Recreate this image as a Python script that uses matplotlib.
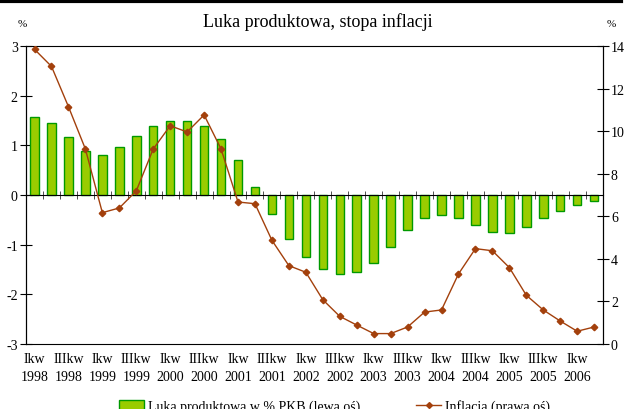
import matplotlib
matplotlib.use("Agg")
import matplotlib.pyplot as plt
from matplotlib.lines import Line2D
from matplotlib.patches import Patch
import numpy as np

plt.rcParams['font.family'] = ['Liberation Serif', 'DejaVu Serif']
plt.rcParams['axes.unicode_minus'] = False

# output gap, % of GDP (left axis), 1998Q1 .. 2006Q2
gap = [1.56, 1.45, 1.17, 0.89, 0.81, 0.97, 1.18, 1.39, 1.49, 1.49, 1.39, 1.13,
       0.71, 0.17, -0.39, -0.88, -1.25, -1.50, -1.59, -1.55, -1.36, -1.04,
       -0.70, -0.47, -0.40, -0.47, -0.61, -0.75, -0.77, -0.64, -0.47, -0.33,
       -0.20, -0.13]
# inflation (right axis)
infl = [13.84, 13.04, 11.15, 9.16, 6.17, 6.39, 7.19, 9.16, 10.25, 9.96, 10.76,
        9.16, 6.67, 6.59, 4.87, 3.68, 3.37, 2.08, 1.30, 0.89, 0.49, 0.49,
        0.80, 1.50, 1.60, 3.29, 4.48, 4.38, 3.59, 2.29, 1.60, 1.08, 0.60, 0.80]
years = list(range(1998, 2007))
tick_labels = []
for y in years:
    tick_labels.append(f"Ikw\n{y}")
    if y < 2006:
        tick_labels.append(f"IIIkw\n{y}")

bar_fill = '#99CC00'
bar_edge = '#009900'
line_col = '#A3400C'

fig = plt.figure(figsize=(6.35, 4.10), dpi=100)
ax = fig.add_axes([0.041, 0.1585, 0.908, 0.727])
x = np.arange(len(gap))

ax.bar(x, gap, width=0.5, color=bar_fill, edgecolor=bar_edge, linewidth=1, zorder=2)
ax.set_xlim(-0.5, len(gap) - 0.5)
ax.set_ylim(-3, 3)
ax.set_yticks(range(-3, 4))
ax.tick_params(axis='y', direction='inout', length=8, labelsize=10, pad=2)

# zero line with quarter ticks
ax.spines['bottom'].set_position(('data', 0))
ax.spines['bottom'].set_zorder(3)
ax.set_xticks([])
ax.set_xticks(x[:-1] + 0.5, minor=True)
ax.tick_params(axis='x', which='minor', direction='inout', length=6, color='#333333')
ax.spines['top'].set_visible(False)

ax2 = ax.twinx()
ax2.plot(x, infl, color=line_col, lw=1, marker='D', ms=3.3, zorder=4)
ax2.set_ylim(0, 14)
ax2.set_yticks(range(0, 15, 2))
ax2.tick_params(axis='y', direction='inout', length=8, labelsize=10, pad=2)

sec = ax.secondary_xaxis(0)
sec.set_xticks(x[::2])
sec.set_xticklabels(tick_labels, fontsize=10, linespacing=1.5)
sec.tick_params(length=0, pad=6)
sec.spines['bottom'].set_visible(False)

fig.text(0.5, 0.945, 'Luka produktowa, stopa inflacji', ha='center', va='center', fontsize=13)
fig.text(0.035, 0.94, '%', ha='center', va='center', fontsize=8)
fig.text(0.963, 0.94, '%', ha='center', va='center', fontsize=8)

# thick rule at the very top
fig.add_artist(Line2D([0, 0.978], [0.996, 0.996], color='black', lw=3))

handles = [Patch(facecolor=bar_fill, edgecolor=bar_edge),
           Line2D([], [], color=line_col, lw=1, marker='D', ms=3)]
fig.legend(handles, ['Luka produktowa w % PKB (lewa oś)', 'Inflacja (prawa oś)'],
           loc='center', bbox_to_anchor=(0.527, 0.008), ncol=2, frameon=False,
           fontsize=10, columnspacing=4, handlelength=1.8, handletextpad=0.3)

fig.savefig('out.png', dpi=100)
